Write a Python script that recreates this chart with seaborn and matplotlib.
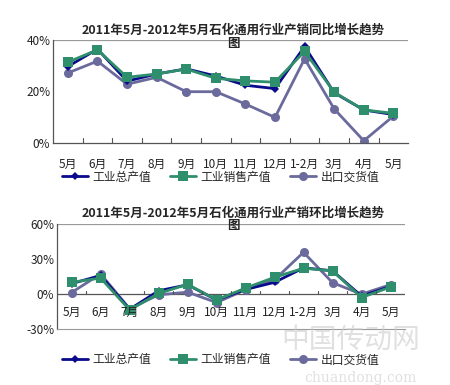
import numpy as np
import pandas as pd
import matplotlib
matplotlib.use("Agg")
import matplotlib.pyplot as plt
import seaborn as sns

# chart data
months = ["5月", "6月", "7月", "8月", "9月", "10月", "11月", "12月", "1-2月", "3月", "4月", "5月"]
series_names = ["工业总产值", "工业销售产值", "出口交货值"]

# year-on-year growth (%)
yoy_total = [29.7, 36.5, 24.0, 26.8, 28.8, 26.0, 22.4, 21.1, 37.5, 19.5, 12.8, 11.0]
yoy_sales = [31.4, 36.2, 25.5, 26.8, 28.7, 25.1, 24.1, 23.6, 35.6, 19.7, 12.8, 11.5]
yoy_export = [27.2, 31.8, 22.8, 25.5, 19.9, 19.9, 15.1, 9.9, 32.7, 13.2, 0.8, 10.4]

# month-on-month growth (%)
mom_total = [9.0, 16.0, -13.0, 2.9, 8.0, -5.0, 4.0, 10.1, 22.5, 20.0, -1.7, 6.6]
mom_sales = [10.1, 13.8, -13.5, 0.6, 8.4, -4.9, 5.2, 14.4, 22.2, 19.9, -2.9, 6.1]
mom_export = [1.4, 17.3, -12.5, -0.6, 1.7, -7.2, 3.8, 12.4, 35.8, 9.8, 0.0, 8.1]

colors = {"工业总产值": "#0a0a8c", "工业销售产值": "#2f8f6c", "出口交货值": "#6a6a9c"}
markers = {"工业总产值": "D", "工业销售产值": "s", "出口交货值": "o"}
msizes = {"工业总产值": 4.5, "工业销售产值": 7, "出口交货值": 6.5}

sns.set_style("white")
plt.rcParams["font.family"] = ["Noto Sans CJK SC", "DejaVu Sans"]


def long_df(a, b, c):
    rows = []
    for name, vals in zip(series_names, [a, b, c]):
        for i, v in enumerate(vals):
            rows.append({"idx": i, "value": v, "series": name})
    return pd.DataFrame(rows)


def draw(ax, df):
    for name in ["出口交货值", "工业总产值", "工业销售产值"]:
        sub = df[df["series"] == name]
        sns.lineplot(data=sub, x="idx", y="value", ax=ax, color=colors[name],
                     marker=markers[name], markersize=msizes[name],
                     markeredgewidth=0, linewidth=2.0, sort=False, label=name)
    ax.set_xlim(-0.5, len(months) - 0.5)
    ax.set_xlabel("")
    ax.set_ylabel("")
    ax.get_legend().remove()


def add_legend(ax, y):
    handles, labels = ax.get_legend_handles_labels()
    order = [labels.index(n) for n in series_names]
    fig.legend([handles[i] for i in order], [labels[i] for i in order],
               loc="center", bbox_to_anchor=(0.49, y), ncol=3, frameon=False,
               fontsize=8.5, handlelength=2.2, columnspacing=1.6, handletextpad=0.4)


fig = plt.figure(figsize=(4.5, 3.85), dpi=100)

# ---- top: year-on-year ----
ax1 = fig.add_axes([0.118, 0.629, 0.789, 0.267])
draw(ax1, long_df(yoy_total, yoy_sales, yoy_export))
ax1.set_ylim(0, 40)
ax1.set_yticks([0, 20, 40])
ax1.set_yticklabels(["0%", "20%", "40%"], fontsize=8.5, color="#222222")
ax1.axhline(40, color="#999999", lw=0.9, zorder=0)
ax1.set_xticks(np.arange(len(months)))
ax1.set_xticklabels(months, fontsize=8.5, color="#222222")
ax1.tick_params(axis="x", length=0, pad=11)
ax1.tick_params(axis="y", length=0, pad=2)
for b in np.arange(0.5, len(months) - 0.5, 1):
    ax1.plot([b, b], [0, 1.8], color="#555555", lw=0.8, clip_on=False)
for s in ["top", "right"]:
    ax1.spines[s].set_visible(False)
for s in ["left", "bottom"]:
    ax1.spines[s].set_color("#555555")
    ax1.spines[s].set_linewidth(0.9)
fig.text(0.518, 0.905, "2011年5月-2012年5月石化通用行业产销同比增长趋势",
         ha="center", va="bottom", fontsize=9, fontweight="bold")
fig.text(0.518, 0.905, "图", ha="center", va="top", fontsize=9, fontweight="bold")
add_legend(ax1, 0.54)

# ---- bottom: month-on-month ----
ax2 = fig.add_axes([0.127, 0.145, 0.773, 0.273])
draw(ax2, long_df(mom_total, mom_sales, mom_export))
ax2.set_ylim(-30, 60)
ax2.set_yticks([-30, 0, 30, 60])
ax2.set_yticklabels(["-30%", "0%", "30%", "60%"], fontsize=8.5, color="#222222")
ax2.axhline(60, color="#999999", lw=0.9, zorder=0)
ax2.axhline(0, color="#555555", lw=0.9, zorder=1)
ax2.set_xticks([])
for i, m in enumerate(months):
    ax2.text(i, -15.5, m, ha="center", va="center", fontsize=8.5, color="#222222")
for b in np.arange(0.5, len(months) - 0.5, 1):
    ax2.plot([b, b], [0, 3], color="#555555", lw=0.8)
ax2.tick_params(axis="y", length=0, pad=2)
for s in ["top", "right"]:
    ax2.spines[s].set_visible(False)
ax2.spines["left"].set_color("#555555")
ax2.spines["left"].set_linewidth(0.9)
ax2.spines["bottom"].set_color("#999999")
fig.text(0.518, 0.43, "2011年5月-2012年5月石化通用行业产销环比增长趋势",
         ha="center", va="bottom", fontsize=9, fontweight="bold")
fig.text(0.518, 0.43, "图", ha="center", va="top", fontsize=9, fontweight="bold")
add_legend(ax2, 0.065)

# watermark (kept clear of the legend text)
fig.text(0.78, 0.118, "中国传动网", ha="center", va="center", fontsize=20,
         color="#cccccc", alpha=0.6, zorder=0)
fig.text(0.80, 0.018, "chuandong.com", ha="center", va="center", fontsize=10,
         color="#cccccc", alpha=0.6, family="DejaVu Serif", zorder=0)

fig.savefig("out.png", dpi=100)
